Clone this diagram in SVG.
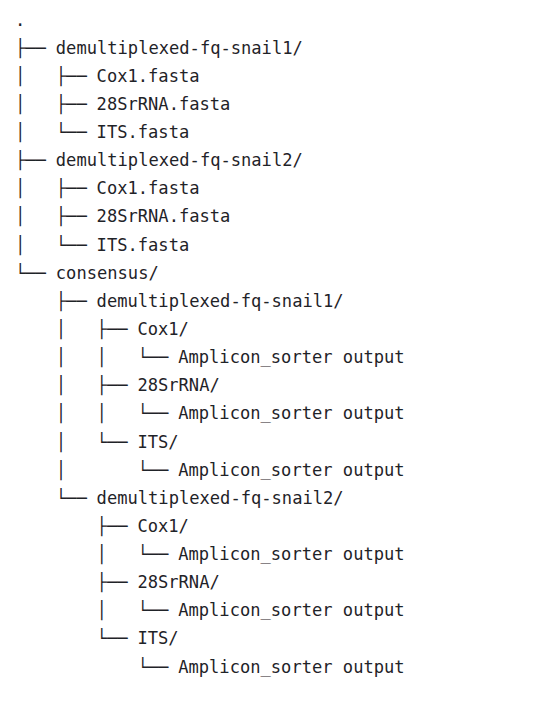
<svg xmlns="http://www.w3.org/2000/svg" width="543" height="717" viewBox="0 0 543 717">
<style>
text{font-family:"DejaVu Sans Mono","Liberation Mono",monospace;font-size:17.1px;fill:#1f2328;white-space:pre}
</style>
<rect width="543" height="717" fill="#ffffff"/>
<g transform="translate(0,1)">
<g id="connectors">
<text x="15" y="52.6">├──</text>
<text x="15" y="80.8">│</text><text x="55.8" y="80.8">├──</text>
<text x="15" y="108.9">│</text><text x="55.8" y="108.9">├──</text>
<text x="15" y="137.0">│</text><text x="55.8" y="137.0">└──</text>
<text x="15" y="165.2">├──</text>
<text x="15" y="193.3">│</text><text x="55.8" y="193.3">├──</text>
<text x="15" y="221.4">│</text><text x="55.8" y="221.4">├──</text>
<text x="15" y="249.5">│</text><text x="55.8" y="249.5">└──</text>
<text x="15" y="277.7">└──</text>
<text x="55.8" y="305.8">├──</text>
<text x="55.8" y="333.9">│</text><text x="96.6" y="333.9">├──</text>
<text x="55.8" y="362.1">│</text><text x="96.6" y="362.1">│</text><text x="137.4" y="362.1">└──</text>
<text x="55.8" y="390.2">│</text><text x="96.6" y="390.2">├──</text>
<text x="55.8" y="418.3">│</text><text x="96.6" y="418.3">│</text><text x="137.4" y="418.3">└──</text>
<text x="55.8" y="446.5">│</text><text x="96.6" y="446.5">└──</text>
<text x="55.8" y="474.6">│</text><text x="137.4" y="474.6">└──</text>
<text x="55.8" y="502.7">└──</text>
<text x="96.6" y="530.8">├──</text>
<text x="96.6" y="559.0">│</text><text x="137.4" y="559.0">└──</text>
<text x="96.6" y="587.1">├──</text>
<text x="96.6" y="615.2">│</text><text x="137.4" y="615.2">└──</text>
<text x="96.6" y="643.4">└──</text>
<text x="137.4" y="671.5">└──</text>
</g>
<g id="root"><text x="15" y="24.5">.</text></g>
<g id="snail1"><text x="55.8" y="52.6">demultiplexed-fq-snail1/</text></g>
<g id="snail1-cox1"><text x="96.6" y="80.8">Cox1.fasta</text></g>
<g id="snail1-28s"><text x="96.6" y="108.9">28SrRNA.fasta</text></g>
<g id="snail1-its"><text x="96.6" y="137.0">ITS.fasta</text></g>
<g id="snail2"><text x="55.8" y="165.2">demultiplexed-fq-snail2/</text></g>
<g id="snail2-cox1"><text x="96.6" y="193.3">Cox1.fasta</text></g>
<g id="snail2-28s"><text x="96.6" y="221.4">28SrRNA.fasta</text></g>
<g id="snail2-its"><text x="96.6" y="249.5">ITS.fasta</text></g>
<g id="consensus"><text x="55.8" y="277.7">consensus/</text></g>
<g id="c-snail1"><text x="96.6" y="305.8">demultiplexed-fq-snail1/</text></g>
<g id="c-snail1-cox1"><text x="137.4" y="333.9">Cox1/</text></g>
<g id="c-snail1-cox1-out"><text x="178.2" y="362.1">Amplicon_sorter output</text></g>
<g id="c-snail1-28s"><text x="137.4" y="390.2">28SrRNA/</text></g>
<g id="c-snail1-28s-out"><text x="178.2" y="418.3">Amplicon_sorter output</text></g>
<g id="c-snail1-its"><text x="137.4" y="446.5">ITS/</text></g>
<g id="c-snail1-its-out"><text x="178.2" y="474.6">Amplicon_sorter output</text></g>
<g id="c-snail2"><text x="96.6" y="502.7">demultiplexed-fq-snail2/</text></g>
<g id="c-snail2-cox1"><text x="137.4" y="530.8">Cox1/</text></g>
<g id="c-snail2-cox1-out"><text x="178.2" y="559.0">Amplicon_sorter output</text></g>
<g id="c-snail2-28s"><text x="137.4" y="587.1">28SrRNA/</text></g>
<g id="c-snail2-28s-out"><text x="178.2" y="615.2">Amplicon_sorter output</text></g>
<g id="c-snail2-its"><text x="137.4" y="643.4">ITS/</text></g>
<g id="c-snail2-its-out"><text x="178.2" y="671.5">Amplicon_sorter output</text></g>
</g>
</svg>
